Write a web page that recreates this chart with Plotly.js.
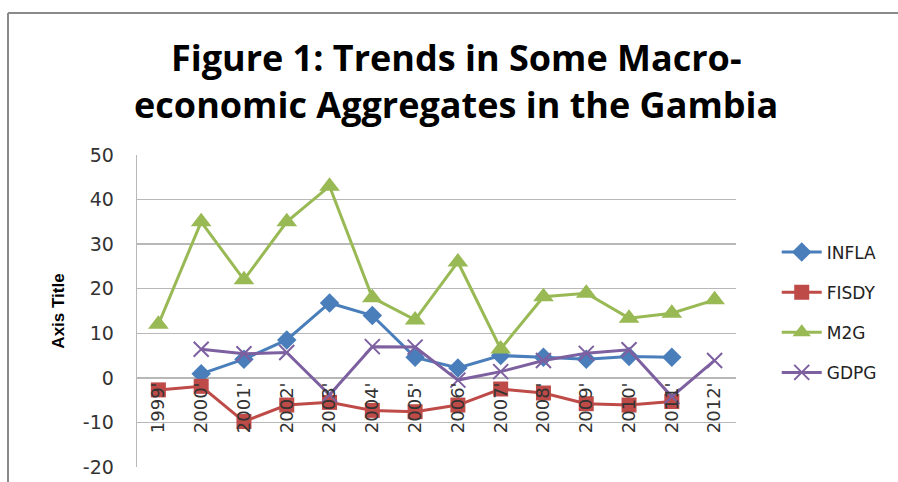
<!DOCTYPE html>
<html><head><meta charset="utf-8">
<script src="https://cdn.plot.ly/plotly-3.0.1.min.js"></script>
<style>html,body{margin:0;padding:0;background:#fff}#chart{width:898px;height:482px}</style>
</head><body><div id="chart"></div>
<script>
const years = ["1999'","2000'","2001'","2002'","2003'","2004'","2005'","2006'","2007'","2008'","2009'","2010'","2011'","2012'"];
const INFLA = [null, 0.9, 4.2, 8.5, 16.8, 14.0, 4.6, 2.2, 5.0, 4.6, 4.2, 4.8, 4.6, null];
const FISDY = [-2.7, -1.9, -9.8, -6.1, -5.5, -7.3, -7.6, -6.1, -2.5, -3.4, -5.8, -6.1, -5.3, null];
const M2G   = [12, 35, 22, 35, 43, 18, 13, 26, 6.5, 18.2, 19, 13.4, 14.5, 17.5];
const GDPG  = [null, 6.4, 5.4, 5.7, -3.8, 7.0, 6.9, -0.5, 1.4, 3.9, 5.5, 6.3, -4.2, 3.9];
const yTicks = [-20, -10, 0, 10, 20, 30, 40, 50];

function tr(name, y, color, symbol, size, lw) {
  return {x: years, y: y, name: name, legendgroup: name, type: 'scatter', mode: 'lines+markers',
    line: {color: color, width: 3}, connectgaps: false,
    marker: {symbol: symbol, size: size, color: color, line: {color: color, width: lw || 0}}};
}
const data = [
  tr('INFLA', INFLA, '#4A7EBB', 'diamond', 15),
  tr('FISDY', FISDY, '#BE4B48', 'square', 15),
  tr('M2G', M2G, '#98B954', 'triangle-up', 18),
  tr('GDPG', GDPG, '#7D60A0', 'x-thin-open', 15, 2)
];
const L = 137, R = 736, T = 155, B = 467;
const pw = R - L, ph = B - T;
const layout = {
  width: 898, height: 482,
  margin: {l: L, r: 898 - R, t: T, b: 482 - B},
  paper_bgcolor: '#fff', plot_bgcolor: '#fff',
  title: {text: 'Figure 1: Trends in Some Macro-<br>economic Aggregates in the Gambia',
    font: {family: 'Open Sans, sans-serif', size: 36, color: '#000', weight: 'bold'},
    x: 0.508, xref: 'container', xanchor: 'center', yref: 'container', y: 0.852, yanchor: 'middle'},
  xaxis: {type: 'category', range: [-0.5, 13.5], anchor: 'free', position: 20 / 70,
    tickangle: -90, tickfont: {family: 'DejaVu Sans, sans-serif', size: 18, color: '#333'},
    showgrid: false, showline: false, ticks: '', zeroline: false, fixedrange: true},
  yaxis: {range: [-20, 50], tickvals: yTicks, ticktext: yTicks.map(String),
    tickfont: {family: 'DejaVu Sans, sans-serif', size: 19, color: '#333'},
    showgrid: true, gridcolor: '#b8b8b8', gridwidth: 1.3, zeroline: false,
    showline: true, linecolor: '#b8b8b8', linewidth: 1.3, ticks: 'outside', ticklen: 18, tickcolor: 'rgba(0,0,0,0)',
    title: {text: '<b>Axis Title</b>', font: {family: 'Liberation Sans, Arial, sans-serif', size: 17, color: '#000'}, standoff: 14}},
  legend: {x: 1.068, y: 0.745, xanchor: 'left', yanchor: 'top', tracegroupgap: 15,
    font: {family: 'DejaVu Sans, sans-serif', size: 17, color: '#222'},
    bgcolor: 'rgba(0,0,0,0)', itemwidth: 40},
  shapes: [
    {type: 'line', xref: 'paper', yref: 'paper', x0: (8 - L) / pw, x1: (8 - L) / pw,
      y0: (B - 490) / ph, y1: (B - 13) / ph, line: {color: '#8a8a8a', width: 2}},
    {type: 'line', xref: 'paper', yref: 'paper', x0: (8 - L) / pw, x1: (910 - L) / pw,
      y0: (B - 13) / ph, y1: (B - 13) / ph, line: {color: '#8a8a8a', width: 2}}
  ],
  showlegend: true
};
Plotly.newPlot('chart', data, layout, {displayModeBar: false, staticPlot: true});
</script></body></html>
